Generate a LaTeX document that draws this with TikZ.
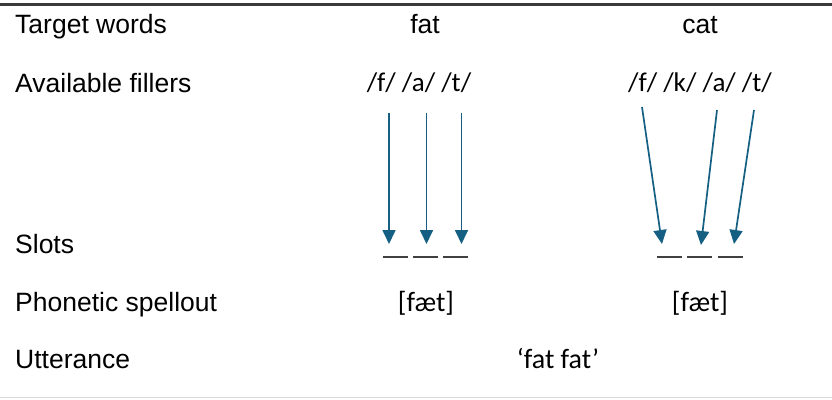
\documentclass[tikz,border=0pt]{standalone}
\usepackage{fontspec}
\setmainfont{Liberation Sans}
\newfontfamily\ipafont{Carlito}
\usetikzlibrary{arrows.meta}
\definecolor{accent}{HTML}{156082}
\definecolor{rulegray}{HTML}{3A3A3A}
\definecolor{lightrule}{HTML}{DADADA}
\definecolor{slotgray}{HTML}{404040}
\tikzset{
  lbl/.style={anchor=base west, inner sep=0pt, font=\fontsize{26.5bp}{30bp}\selectfont},
  word/.style={anchor=base, inner sep=0pt, font=\fontsize{26.5bp}{30bp}\selectfont},
  ipa/.style={anchor=base, inner sep=0pt, font=\ipafont\fontsize{27bp}{31bp}\selectfont},
  ipabig/.style={anchor=base, inner sep=0pt, font=\ipafont\fontsize{28bp}{32bp}\selectfont},
  fill arrow/.style={draw=accent, line width=1.7bp, -{Triangle[length=14bp,width=13bp]}},
  slotline/.style={draw=slotgray, line width=1.8bp},
}
\begin{document}
\begin{tikzpicture}[x=1bp,y=-1bp]
\useasboundingbox (0,0) rectangle (832,399);
% table rules
\draw[rulegray, line width=2.2bp] (0,4.5) -- (832,4.5);
\draw[lightrule, line width=1bp] (0,397.5) -- (832,397.5);

% row labels
\node[lbl] (l1) at (15,33) {Target words};
\node[lbl] (l2) at (15,92) {Available fillers};
\node[lbl] (l3) at (15,253) {Slots};
\node[lbl] (l4) at (15,311) {Phonetic spellout};
\node[lbl] (l5) at (15,368) {Utterance};

% target words
\node[word] (wfat) at (425,33) {fat};
\node[word] (wcat) at (700,33) {cat};

% available fillers
\node[ipa] (ffat) at (419,91) {/f/ /a/ /t/};
\node[ipa] (fcat) at (700,91) {/f/ /k/ /a/ /t/};

% arrow ends, fat
\coordinate (a1s) at (389,113);  \coordinate (a1e) at (389,244);
\coordinate (a2s) at (426.5,113);\coordinate (a2e) at (426.5,244);
\coordinate (a3s) at (461.5,113);\coordinate (a3e) at (461.5,244);
% arrow ends, cat
\coordinate (b1s) at (642,107);  \coordinate (b1e) at (662,244);
\coordinate (b2s) at (717,110);  \coordinate (b2e) at (701,245);
\coordinate (b3s) at (754,110);  \coordinate (b3e) at (734,244);

\draw[fill arrow] (a1s) -- (a1e);
\draw[fill arrow] (a2s) -- (a2e);
\draw[fill arrow] (a3s) -- (a3e);
\draw[fill arrow] (b1s) -- (b1e);
\draw[fill arrow] (b2s) -- (b2e);
\draw[fill arrow] (b3s) -- (b3e);

% slots
\foreach \x in {383,413,443,657,687,718}
  \draw[slotline] (\x,257) -- ++(25,0);

% spellouts
\node[ipabig] (sfat) at (426,311) {[fæt]};
\node[ipabig] (scat) at (700,311) {[fæt]};

% utterance
\node[ipabig] (utt) at (558,368) {‘fat fat’};
\end{tikzpicture}
\end{document}
